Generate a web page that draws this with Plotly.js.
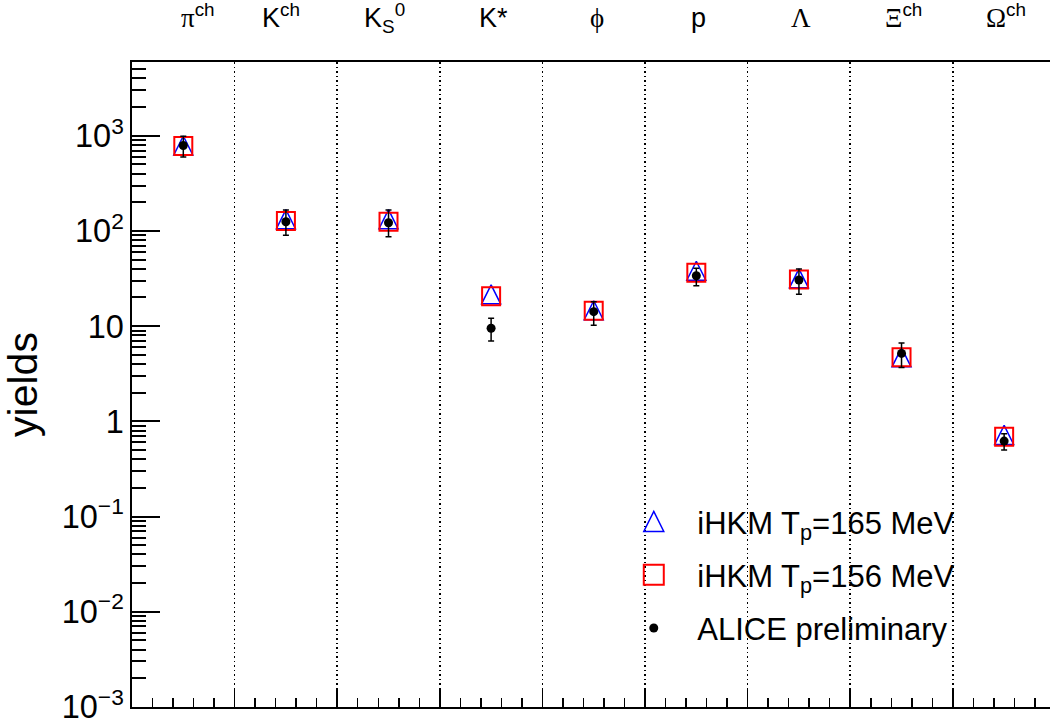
<!DOCTYPE html>
<html>
<head>
<meta charset="utf-8">
<script src="https://cdn.plot.ly/plotly-3.0.1.min.js"></script>
<style>
  html, body { margin: 0; padding: 0; background: #fff; overflow: hidden; }
  #chart { width: 1050px; height: 727px; }
</style>
</head>
<body>
<div id="chart"></div>
<script>
// ---- data ----
const categories = [
  '<span style="font-family:Liberation Serif">π</span><sup>ch</sup>',
  'K<sup>ch</sup>',
  'K<sub>S</sub><sup>0</sup>',
  'K*',
  '<span style="font-family:Liberation Serif">ϕ</span>',
  'p',
  '<span style="font-family:Liberation Serif">Λ</span>',
  '<span style="font-family:Liberation Serif">Ξ</span><sup>ch</sup>',
  '<span style="font-family:Liberation Serif">Ω</span><sup>ch</sup>'
];
const categoryIndex = [0, 1, 2, 3, 4, 5, 6, 7, 8];

const ihkm165 = [790, 133, 133, 21.6, 14.7, 38.2, 31.8, 4.7, 0.72];
const ihkm156 = [780, 127, 125, 20.6, 14.5, 36.4, 31.0, 4.7, 0.69];
const alice      = [790, 125, 122, 9.5, 14.2, 33.8, 30.5, 5.17, 0.62];
const aliceErrUp = [200, 41, 44, 2.6, 3.8, 6.7, 9.3, 1.5, 0.12];
const aliceErrDn = [190, 35, 35, 2.5, 4.0, 7.3, 8.9, 1.5, 0.12];

const seriesNames = [
  'iHKM T<sub>p</sub>=165 MeV',
  'iHKM T<sub>p</sub>=156 MeV',
  'ALICE preliminary'
];

// layout tuning (pixel nudges for the category labels)
const LABEL_NUDGE_X = [15, -5, -4, 2, 3, 2, 2, 2, 2];
const LABEL_NUDGE_Y = [0, 0, -4, 0, 0, 0, 0, 0, 0];

const xCenters = categoryIndex.map(i => i + 0.5);
const FONT = 'Liberation Sans, Arial, Helvetica, sans-serif';

const traces = [
  {
    type: 'scatter', mode: 'markers', name: seriesNames[0],
    x: xCenters, y: ihkm165, legendgroup: 'a',
    marker: { symbol: 'arrow-down-open', angle: 180, size: 19, standoff: 9.5,
              color: '#0000ff', line: { color: '#0000ff', width: 1.5 } }
  },
  {
    type: 'scatter', mode: 'markers', name: seriesNames[1],
    x: xCenters, y: ihkm156, legendgroup: 'b',
    marker: { symbol: 'square-open', size: 18, color: '#ff0000', line: { color: '#ff0000', width: 2 } }
  },
  {
    type: 'scatter', mode: 'markers', name: seriesNames[2],
    x: xCenters, y: alice, legendgroup: 'c',
    marker: { symbol: 'circle', size: 9, color: '#000000' },
    error_y: { type: 'data', symmetric: false, array: aliceErrUp, arrayminus: aliceErrDn,
               color: '#000000', thickness: 1.5, width: 3 }
  }
];

const annotations = categories.map((c, i) => ({
  x: xCenters[i], xref: 'x', y: 1, yref: 'paper',
  xanchor: 'center', yanchor: 'bottom', yshift: 27 + LABEL_NUDGE_Y[i], xshift: LABEL_NUDGE_X[i],
  text: c, showarrow: false,
  font: { family: FONT, size: 27, color: '#000' }
}));

const layout = {
  width: 1050, height: 727,
  margin: { l: 132, r: 0, t: 62, b: 20, pad: 0 },
  paper_bgcolor: '#fff', plot_bgcolor: '#fff',
  font: { family: FONT, color: '#000' },
  showlegend: true,
  legend: {
    x: 0.521, y: 0.329, xanchor: 'left', yanchor: 'top',
    bgcolor: 'rgba(0,0,0,0)', borderwidth: 0,
    font: { family: FONT, size: 31, color: '#000' },
    traceorder: 'grouped', tracegroupgap: 10, itemsizing: 'trace', itemwidth: 77
  },
  xaxis: {
    range: [0, 8.947], showticklabels: false, zeroline: false,
    tick0: 0, dtick: 1, ticks: 'inside', ticklen: 19, tickwidth: 1.5, tickcolor: '#000',
    showgrid: true, gridcolor: '#000', gridwidth: 1.5, griddash: '1.5px,3px',
    minor: { dtick: 0.2, tick0: 0, ticks: 'inside', ticklen: 9, tickwidth: 1.5, tickcolor: '#000', showgrid: false },
    showline: true, linecolor: '#000', linewidth: 2, mirror: true
  },
  yaxis: {
    type: 'log', range: [-3.001, 3.775], zeroline: false, showgrid: false,
    tick0: 0, dtick: 1, exponentformat: 'power',
    ticks: 'inside', ticklen: 28, tickwidth: 2, tickcolor: '#000',
    minor: { dtick: 'D1', ticks: 'inside', ticklen: 14, tickwidth: 2, tickcolor: '#000', showgrid: false },
    tickfont: { family: FONT, size: 26, color: '#000' },
    ticklabelstandoff: 1,
    showline: true, linecolor: '#000', linewidth: 2,
    title: { text: 'yields', font: { family: FONT, size: 41, color: '#000' }, standoff: 28 }
  },
  annotations: annotations
};

Plotly.newPlot('chart', traces, layout, { displayModeBar: false, staticPlot: true }).then(gd => {
  // legend symbols: centre the open triangle on its row and enlarge the open markers a little
  const SCALE = 1.25;
  gd.querySelectorAll('.legend .traces').forEach(t => {
    const isTri = t.textContent.indexOf('165') !== -1;
    const isSq = t.textContent.indexOf('156') !== -1;
    if (!isTri && !isSq) return;
    t.querySelectorAll('.legendpoints path').forEach(p => {
      const bb = p.getBBox();
      const cy = bb.y + bb.height / 2;
      const cx = bb.x + bb.width / 2;
      const tr = p.getAttribute('transform') || '';
      p.setAttribute('transform', tr + ' scale(' + SCALE + ') translate(' + (-cx).toFixed(2) + ',' + (-cy).toFixed(2) + ')');
      const sw = parseFloat(p.style.strokeWidth) || 1.5;
      p.style.strokeWidth = (sw / SCALE).toFixed(2) + 'px';
    });
  });
});
</script>
</body>
</html>
